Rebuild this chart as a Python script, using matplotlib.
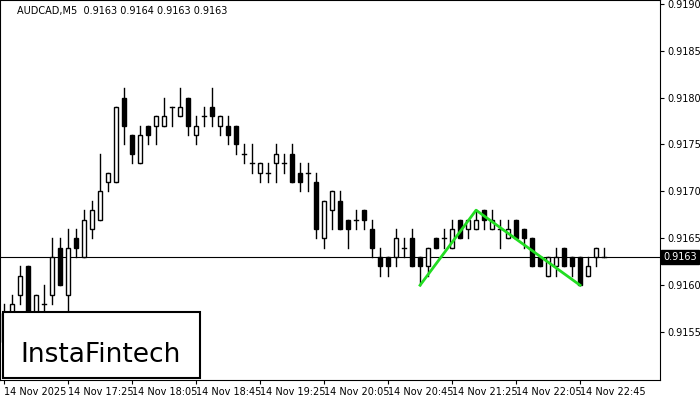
import matplotlib.pyplot as plt
from matplotlib.patches import Rectangle

# candle data, AUDCAD M5, 14 Nov 16:45 onwards
opens = [0.9154, 0.9156, 0.9159, 0.9162, 0.9155, 0.9158, 0.9159, 0.9164, 0.9159, 0.9165,
         0.9163, 0.9166, 0.9167, 0.9171, 0.9171, 0.9180, 0.9176, 0.9173, 0.9177, 0.9177,
         0.9177, 0.9179, 0.9178, 0.9180, 0.9176, 0.9178, 0.9179, 0.9177, 0.9177, 0.9177,
         0.9174, 0.9173, 0.9172, 0.9172, 0.9173, 0.9173, 0.9174, 0.9172, 0.9172, 0.9171,
         0.9165, 0.9168, 0.9169, 0.9167, 0.9167, 0.9168, 0.9166, 0.9163, 0.9163, 0.9163,
         0.9164, 0.9165, 0.9163, 0.9162, 0.9165, 0.9165, 0.9164, 0.9167, 0.9166, 0.9166,
         0.9168, 0.9166, 0.9166, 0.9165, 0.9167, 0.9166, 0.9165, 0.9163, 0.9161, 0.9162,
         0.9164, 0.9163, 0.9163, 0.9161, 0.9163, 0.9163]
closes = [0.9157, 0.9158, 0.9161, 0.9156, 0.9159, 0.9158, 0.9163, 0.9160, 0.9164, 0.9164,
          0.9167, 0.9168, 0.9170, 0.9172, 0.9179, 0.9177, 0.9174, 0.9176, 0.9176, 0.9178,
          0.9178, 0.9179, 0.9179, 0.9177, 0.9177, 0.9178, 0.9178, 0.9178, 0.9176, 0.9175,
          0.9174, 0.9173, 0.9173, 0.9172, 0.9174, 0.9173, 0.9171, 0.9171, 0.9172, 0.9166,
          0.9169, 0.9170, 0.9166, 0.9166, 0.9167, 0.9167, 0.9164, 0.9162, 0.9162, 0.9165,
          0.9164, 0.9162, 0.9162, 0.9164, 0.9164, 0.9165, 0.9166, 0.9165, 0.9167, 0.9167,
          0.9167, 0.9167, 0.9166, 0.9166, 0.9165, 0.9165, 0.9162, 0.9162, 0.9163, 0.9163,
          0.9162, 0.9162, 0.9160, 0.9162, 0.9164, 0.9163]
highs = [0.9158, 0.9159, 0.9162, 0.9162, 0.9159, 0.9160, 0.9165, 0.9165, 0.9166, 0.9166,
         0.9168, 0.9169, 0.9174, 0.9172, 0.9179, 0.9181, 0.9176, 0.9177, 0.9177, 0.9178,
         0.9180, 0.9179, 0.9181, 0.9180, 0.9178, 0.9179, 0.9181, 0.9178, 0.9178, 0.9177,
         0.9175, 0.9175, 0.9173, 0.9173, 0.9175, 0.9174, 0.9175, 0.9173, 0.9173, 0.9172,
         0.9169, 0.9170, 0.9170, 0.9167, 0.9168, 0.9168, 0.9167, 0.9164, 0.9163, 0.9166,
         0.9165, 0.9166, 0.9163, 0.9164, 0.9165, 0.9166, 0.9167, 0.9167, 0.9167, 0.9168,
         0.9168, 0.9168, 0.9167, 0.9167, 0.9167, 0.9166, 0.9165, 0.9163, 0.9163, 0.9164,
         0.9164, 0.9163, 0.9163, 0.9163, 0.9164, 0.9164]
lows = [0.9152, 0.9154, 0.9158, 0.9155, 0.9154, 0.9155, 0.9158, 0.9160, 0.9157, 0.9163,
        0.9163, 0.9165, 0.9167, 0.9170, 0.9171, 0.9175, 0.9173, 0.9173, 0.9175, 0.9175,
        0.9177, 0.9177, 0.9178, 0.9176, 0.9175, 0.9177, 0.9177, 0.9176, 0.9175, 0.9174,
        0.9173, 0.9172, 0.9171, 0.9171, 0.9171, 0.9172, 0.9171, 0.9170, 0.9170, 0.9165,
        0.9164, 0.9166, 0.9166, 0.9164, 0.9166, 0.9166, 0.9163, 0.9161, 0.9161, 0.9162,
        0.9163, 0.9162, 0.9160, 0.9161, 0.9164, 0.9164, 0.9164, 0.9165, 0.9165, 0.9166,
        0.9166, 0.9166, 0.9164, 0.9165, 0.9165, 0.9164, 0.9162, 0.9162, 0.9161, 0.9161,
        0.9162, 0.9161, 0.9160, 0.9161, 0.9162, 0.9163]

time_labels = ["14 Nov 2025", "14 Nov 17:25", "14 Nov 18:05", "14 Nov 18:45", "14 Nov 19:25",
               "14 Nov 20:05", "14 Nov 20:45", "14 Nov 21:25", "14 Nov 22:05", "14 Nov 22:45"]
price_ticks = [0.9155, 0.9160, 0.9165, 0.9170, 0.9175, 0.9180, 0.9185, 0.9190]
last_price = 0.9163

# double bottom pattern
pat_idx = [52, 59, 72]
pat_price = [0.9160, 0.9168, 0.9160]

fig = plt.figure(figsize=(7, 4), dpi=100)
ax = fig.add_axes([0.0, 0.05, 0.943, 0.95])

w = 0.6
for i in range(len(opens)):
    o, c, h, l = opens[i], closes[i], highs[i], lows[i]
    ax.plot([i, i], [l, h], color="black", lw=1, zorder=2)
    if abs(c - o) < 1e-6:
        ax.plot([i - w / 2, i + w / 2], [o, o], color="black", lw=1, zorder=3)
    else:
        face = "white" if c > o else "black"
        ax.add_patch(Rectangle((i - w / 2, min(o, c)), w, abs(c - o),
                               facecolor=face, edgecolor="black", lw=1, zorder=3))

ax.axhline(last_price, color="black", lw=0.8, zorder=1)
ax.plot(pat_idx, pat_price, color="#22dd22", lw=2, zorder=4)

ax.set_xlim(-0.5, 82)
ax.set_ylim(0.91499, 0.91904)

ax.yaxis.tick_right()
ax.set_yticks(price_ticks)
ax.set_yticklabels([f"{p:.4f}" for p in price_ticks])
ax.set_xticks(range(0, 80, 8))
ax.set_xticklabels(time_labels, ha="left")
ax.tick_params(labelsize=7, length=3, direction="out", pad=2)
for s in ax.spines.values():
    s.set_color("black")
    s.set_linewidth(0.8)

ax.text(last_price and 1.005, last_price, f"{last_price:.4f}", transform=ax.get_yaxis_transform(),
        va="center", ha="left", fontsize=7, color="white",
        bbox=dict(facecolor="black", edgecolor="black", boxstyle="square,pad=0.2"))

ax.text(0.025, 0.985, "AUDCAD,M5  0.9163 0.9164 0.9163 0.9163", transform=ax.transAxes,
        fontsize=7, va="top", ha="left")

fig.patches.append(Rectangle((3 / 700, 22 / 400), 197 / 700, 66 / 400, transform=fig.transFigure,
                             facecolor="white", edgecolor="black", lw=1.5, zorder=10))
fig.text(101 / 700, 45 / 400, "InstaFintech", fontsize=19, ha="center", va="center", zorder=11)

fig.savefig("out.png", dpi=100)
